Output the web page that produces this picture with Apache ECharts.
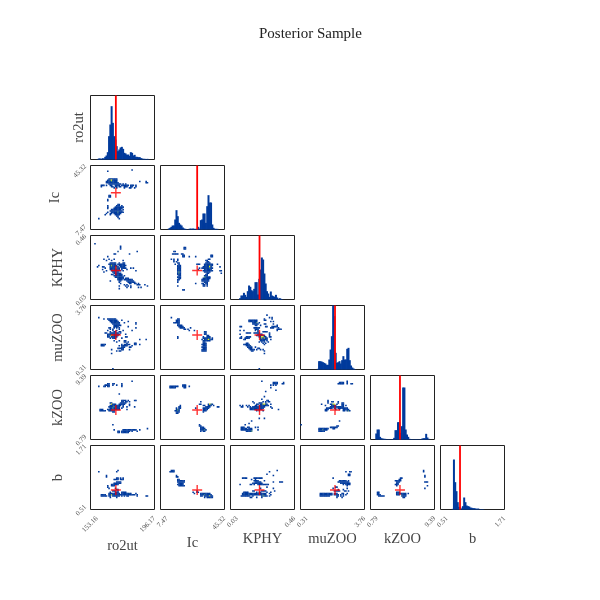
<!DOCTYPE html>
<html><head><meta charset="utf-8">
<script src="https://cdn.jsdelivr.net/npm/echarts@6/dist/echarts.min.js"></script>
<style>html,body{margin:0;padding:0;background:#fff}#c{width:600px;height:600px}</style></head>
<body><div id="c"></div>
<script>
const names=['ro2ut','Ic','KPHY','muZOO','kZOO','b'];
const lowLabels=['153.16','7.47','0.03','0.31','0.79','0.51'];
const highLabels=['196.17','45.32','0.46','3.76','9.39','1.71'];
const truth=[170.2,29.16,0.225,2.17,4.75,0.876];
const BINS=50;
// marginal histograms, one value per bin, starting at bin 0
const hist_ro2ut=[0,0,0,0,0,1,3,3,2,4,3,8,12,22,70,105,160,110,70,60,40,25,30,36,38,32,20,18,14,15,11,22,20,12,14,8,8,7,7,4,3,2,2,1,2,1,0,0,0,0];
const hist_Ic=[0,0,0,0,0,0,3,5,8,12,12,30,58,40,20,15,12,6,3,2,1,0,2,3,2,3,2,2,2,8,3,28,30,48,48,20,70,103,81,81,15,5,2,2,2,0,0,0,0,0];
const hist_KPHY=[0,0,0,0,0,0,0,4,12,12,20,14,8,25,42,38,28,25,32,52,52,15,62,90,126,120,78,48,25,18,8,24,12,10,8,14,6,2,4,2,1,0,0,0,0,0,0,0,0,0];
const hist_muZOO=[0,0,0,0,0,0,0,0,0,0,0,0,0,2,25,25,24,22,20,18,14,14,30,60,100,200,160,50,20,22,25,18,28,40,30,30,62,65,28,12,6,3,1,0,0,0,0,0,0,0];
const hist_kZOO=[0,0,0,0,18,30,30,8,4,3,2,2,1,1,1,1,1,1,5,28,28,52,52,20,40,156,156,30,15,8,2,1,1,1,1,1,1,1,1,1,3,4,4,17,6,2,0,0,0,0];
const hist_b=[0,0,0,0,0,0,0,0,0,2,150,82,55,22,8,6,3,10,36,22,12,10,9,6,5,4,4,3,2,3,1,1,1,1,0,0,0,0,0,0,0,0,0,0,0,0,0,0,0,0];
// 2D histogram cells: each row is [yBin, xBin, xBin, ...]; peaks are [xBin, yBin, level]
const Ic_ro2ut=[[46,32],[45,13],[39,14,15,16,17,18,19,20],[38,13,14,15,16,17,18,19,20],[37,12,13,14,15,16,17,18,19,20,38,43],[36,12,13,14,15,16,17,18,19,20,21,43,44],[35,14,15,16,17,18,19,20,21,22,23,25,27],[34,8,9,10,12,15,16,19,20,21,22,24,25,26,27,28,29,31,32,33,35],[33,8,16,17,19,20,22,23,26,27,28,31,32,35],[32,18,20,26,30,31,34],[26,14,15],[25,14,15],[23,13],[22,13],[19,21,22],[18,13,20,21,22,24],[17,13,19,20,21,22,23,24,25],[16,13,18,19,20,21,22,23,24],[15,16,17,18,19,20,21,22,23,25],[14,15,16,17,18,19,20,21,22,23,24],[13,13,16,17,18,19,20,21,22,23,24,25],[12,12,15,16,18,19,20,21,22,23],[11,11,15,19,20,21,22],[10,20,21],[9,21],[8,6,22]];
const Ic_ro2ut_peaks=[[16,38,10],[15,38,5],[16,37,5],[21,13,4]];
const KPHY_ro2ut=[[43,3],[41,23],[40,23],[39,23],[37,21,36],[35,18,19,30],[33,13],[31,10,14,18],[30,12,16,25],[28,15,16,17,18,19,22,25,26],[27,14,15,16,17,18,19,21,22,23,24,25,26],[26,6,15,16,17,18,19,20,22,23,24,25,26,27],[25,5,9,10,15,16,17,18,19,20,21,23,24,25,26],[24,11,15,16,17,18,19,20,21,22,24,25,26,27,31,33],[23,9,15,16,17,18,19,20,21,22,24,28],[22,12,16,17,18,19,20,21,22,23,25,35],[21,10,17,18,19,20,21],[20,18,19,20,21,22,23],[19,16,17,19,20,21,22,23,24],[18,18,19,20,21,22,23,24,26],[17,19,20,21,22,23,24,25],[16,21,22,23,24,25,27,28,29],[15,21,22,23,24,26,27,28,29,30,31,32],[14,15,22,23,28,29,30,31,32,33],[13,22,29,30,31,32,33,34],[12,23,30,31,34,35,37],[11,26,28,36,37,38,42],[10,22,27,29,31,44],[9,28,31,37,39],[8,22]];
const KPHY_ro2ut_peaks=[[16,26,6],[16,25,5],[21,37,3],[19,24,3],[21,17,3],[20,24,4]];
const muZOO_ro2ut=[[40,6],[39,10,13,14,15,16,17,18,19],[38,14,15,16,17,18,19,20,24],[37,15,16,17,18,19,20,21,29],[36,16,17,18,19,20,21,22,26,35],[35,17,18,19,20,21,22,35],[34,18,19,20,21,22,23],[33,18,19,20,21,29],[32,14,15,18,20,22,35],[31,15,17,22],[30,13,17,20,25,32],[29,15,18,19,22,23],[28,11,12,15,16,17,18,19,20,21,23],[27,13,14,15,16,17,18,19,20,21,22,27],[26,13,14,15,16,17,18,19,20,21],[25,13,14,16,17,18,19,20,27,28],[24,15,17,18,19,24],[23,38,43],[22,18,22,26,27],[21,20,26,27,29],[20,28,34,35],[19,8,9,10,11,24,26,27,28,29,30,34,35,38],[18,8,9,10,22,24,25,26,27,28,32],[17,24,25,26,30,31],[16,21,22,23,24,25],[15,16,24,25,30],[14,20,22,23],[12,16],[0,17]];
const muZOO_ro2ut_peaks=[[16,26,10],[15,26,4],[17,26,4],[20,36,3]];
const kZOO_ro2ut=[[45,32],[43,13,14,17,18,24],[42,11,12,13,14,17,20,24],[41,6,10,11,13,14,24],[35,22],[30,24,25,26,27,29,34,35],[29,24,25,27,28,30],[28,15,16,23,24,25,26,27],[27,16,17,18,19,22,23,24,25,26,30],[26,15,16,17,18,19,20,21,22,23,25,30],[25,14,15,16,17,18,19,20,21,22,25,28,34],[24,15,16,17,18,19,20,21,22,24],[23,7,8,9,13,14,15,16,17,18,19,20,21,22,28],[22,7,8,9,10,11,14,15,16,17,18],[21,17,18],[11,17],[8,44],[7,18,25,26,27,28,29,30,31,32,33,34,35,38],[6,21,22,24,25,26,27,28,29,30,32,36],[5,21,22,24,25,26,27,28,29]];
const kZOO_ro2ut_peaks=[[16,27,10],[18,25,4],[17,24,4]];
const b_ro2ut=[[30,21],[29,6,20],[26,12],[25,12],[24,20,21,23,25],[23,18,19,20,21,23,24,25],[21,20,21,22,23],[20,18,19,20,21,22,23],[19,16,17,18,19,20,21],[18,16,17,18,13],[17,13],[16,19,14],[15,20,21],[14,17,18,19,21],[13,15,19,20,21,24,25,26,27],[12,14,15,16,17,18,19,20,21,22,24,25,26,27,28,29,30,31,35],[11,8,9,10,11,14,15,16,17,18,19,20,21,22,23,24,25,26,27,28,29,30,31,32,33,34,36],[10,8,9,10,11,12,14,15,17,18,19,20,21,22,24,26,28,29,36,43,44],[9,15,20]];
const b_ro2ut_peaks=[[16,11,6],[30,12,2]];
const KPHY_Ic=[[40,18,19],[39,18,19],[37,10,11],[35,9,10,11,12,13,16,17],[34,17,18,39,40],[33,17,18,22,27,39,40],[31,8,10,13,37,38],[30,10,13,35,36],[29,10,12,36,37],[28,13,14,35,36,37,38],[27,11,14,28,29,30,34,35,36,37,38,39,40,44],[26,13,14,15,34,35,36,37,38,39,40],[25,13,14,15,33,34,35,36,37,38,39,46],[24,13,14,15,30,32,33,34,35,36,37,38,39,40],[23,13,14,15,29,34,35,36,37,38,39],[22,13,14,15,33,34,35,36,37,38,39,40,46,47],[21,13,14,15,34,35,36,37,38],[20,13,14,15,36,37,47],[19,13,14,15,35,36],[18,14,15,34,35,36],[17,13,14,15,35,36,37,38],[16,14,15,33,34,35,36,37,38],[15,13,14,32,33,34,35,36,37],[14,13,32,33,34,35,36,37],[13,13,34,35,36],[12,27,32,33,35,36],[11,33,34,36],[10,13,33,34,36],[7,17,18]];
const KPHY_Ic_peaks=[[14,20,4],[14,21,4],[38,25,10],[38,26,5],[38,24,5],[34,17,4]];
const muZOO_Ic=[[40,8],[39,13,14],[38,12,13,14],[37,12,13,14],[36,10,11,12,13,14],[35,13,14],[34,13,14,15,16],[33,14,15,16,17],[32,15,16,17,18,23],[31,18,19,21],[30,22,26],[29,34,35],[28,34,35],[27,34,35],[26,36,37],[25,13,33,36,37,38],[24,13,33,34,35,36,37,38,40],[23,32,34,35,36,37,38,39,40],[22,33,34,35,36,37,38],[21,33,34],[20,33,34,35],[19,32,33,34,35],[18,33,34,35],[17,32,33,34,35],[16,33,34,35],[15,32,33,34,35],[14,32,33,34,35]];
const muZOO_Ic_peaks=[[37,23,10],[38,23,5]];
const kZOO_Ic=[[42,17,18,19],[41,7,8,9,10,11,12,13,17,18,19,22],[40,7,8,9,10,11,18,19],[29,31],[27,30,31,37,38,39,40],[26,15,33,34,37,38,39,41],[25,14,15,35,36,37,38,44,45],[24,12,14,15,27,33,34,35,36,37],[23,12,13,14,33,34,35,36],[22,11,12,13,14,33,34,35],[21,12,13,14,33],[20,12,13],[11,30],[10,30,31],[9,31,32,33],[8,31,32,33,34],[7,31,32,33,34,35],[6,31,33,34]];
const kZOO_Ic_peaks=[[38,27,10],[39,27,5],[34,7,4],[13,23,4],[13,22,5]];
const b_Ic=[[30,8,9,10],[29,7,8,9,10],[26,12],[25,12,13],[23,13,14],[22,13,14,15,16,17,18],[21,13,14,15,16,17,18],[20,14,15,16,17],[19,13,14,15,16,17],[18,14,15,16,17,18],[14,28],[13,25,28,29],[12,26,31,32,33,34,35,36,37,38],[11,31,32,33,34,35,36,37,38,39],[10,31,32,34,35,36,37,38,39,40],[9,34,36,37,38,39,40]];
const b_Ic_peaks=[[34,11,4],[38,10,6]];
const muZOO_KPHY=[[42,28],[40,30,32],[39,26,32],[38,14,15,16,17,18,19,20,26,27],[37,14,15,16,17,18,19,20,31,33],[36,17,18,19,20,22],[35,17,18,19,20,21,26,27,33],[34,19,20,23,36],[33,7,8,27,28,32,33,34,35,36],[32,18,19,20,21,22,31,32,33,37],[31,19,20,21,36,37,38,39],[30,7,10,19,21,36],[29,21,25,26,27,28],[28,12,13,14,15,18,19,20,21,22,30],[27,7,21,22,23,24,30],[26,20,21,22,23,24,25,26,30],[25,8,12,13,14,15,22,23,24,25,26,27,30,31],[24,7,8,11,12,13,14,23,24,25,26,27,28],[23,10,11,23,24,25,26,27,28,31],[22,23,24,25,26,28],[21,22,24,26,29],[20,12,13,25,27],[19,10,11,12,13,14,26],[18,12,13,14,15],[17,13,14,15,16,19],[16,14,15,16,21,22],[15,15,16,17,18,20,23,25],[14,16,17,26],[12,26],[0,22]];
const muZOO_KPHY_peaks=[[25,25,10],[24,25,9],[26,24,6],[24,24,6],[20,36,4],[15,18,3]];
const kZOO_KPHY=[[45,24],[44,33,34,35,36,41],[43,33,34,35,36,40,41],[42,31,33,35],[40,31],[38,35],[37,27],[33,26],[31,24],[30,28,29],[29,17,25,27,29,30],[28,18,22,23,24,27],[27,20,21,23,24,25,26,27,28,31],[26,7,9,12,14,19,20,22,23,24,25,26,27,28,29],[25,8,9,13,15,17,18,19,20,21,22,23,24,25,26,31],[24,15,16,17,18,19,20,21,22,23,24,25,32],[23,15,16,17,18,19,20,21,22,23,24,37],[22,20,22,25],[16,22,26],[14,16],[12,14],[11,11],[9,8,9,10,13,14,19,21],[8,8,9,10,11,12,14,15,16],[7,8,9,10,11,12,13,14,15,16,21],[6,12,13,14,15,16]];
const kZOO_KPHY_peaks=[[26,27,10],[25,27,6],[27,27,4],[16,6,4]];
const b_KPHY=[[30,36],[29,30],[27,28],[26,33],[24,9,10,11,12,18,19,20,21,22,23,24],[23,16,19],[22,18,19,20,21,26],[21,19,20,21,22,23,33,38,39,40],[20,17,18,19,20,21,22,23,24],[19,7,15,16,18,21,22,23,24,25,26,27,28,29],[17,28],[16,23,33],[14,17,18,24,25,26,27,34],[13,10,11,12,13,20,22,23,28,31],[12,9,10,11,12,13,14,15,16,17,18,19,20,21,22,23,24,25,26,27,30],[11,9,10,11,12,13,14,15,16,17,18,19,20,21,22,23,24,25,26,27,31],[10,8,9,10,11,12,13,14,17,24,25,26,27,28,30],[9,15,16,20,24]];
const b_KPHY_peaks=[[25,10,5],[26,10,3],[14,11,3],[25,11,3]];
const kZOO_muZOO=[[45,36],[44,30,31,32,33,36],[43,29,30,31,32,33,36,39,40],[30,21],[29,21,24,25,29],[28,21,29,32,33],[27,16,23,24,25,26,28,32,33],[26,19,24,25,26,27,32,33,35],[25,23,24,25,26,27,28,29,30,31,32,33],[24,20,21,22,23,24,26,27,29,30,31,32,33,34,35,36],[23,19,20,21,27,30,33,34,35,36,37],[22,19,20,33,34,36,37,38],[14,30],[11,0],[10,28,29],[9,23,24,25,26,27,28],[8,14,15,16,17,18,19,20,21,25,26],[7,14,15,16,17,18,19,20],[6,14,15,16,17,18]];
const kZOO_muZOO_peaks=[[26,27,10],[25,27,6],[37,22,4],[17,7,4]];
const b_muZOO=[[29,35,38,39],[27,37,38],[26,37,38],[24,25],[22,30,31,32,33,34,35,37],[21,29,30,31,32,33,34,35,36,37],[20,31,32,33,34,35,36,37,38],[19,33,35,36,37,38],[18,36],[17,27,28],[16,25,36],[15,29,33],[14,26,27,28,29,30,34,35,37],[12,15,16,17,18,19,20,21,22,23,24,26,27,28,32,33,36],[11,15,16,17,18,19,20,21,22,23,24,26,27,28,29,31,33,35],[10,15,16,17,18,19,20,21,22,28,29,31,33],[9,28,32]];
const b_muZOO_peaks=[[27,11,3]];
const b_kZOO=[[30,41],[29,41],[26,42],[25,42],[24,23,24],[23,22,23],[22,19,20,21,22,23],[21,20,21,22,42,43,44],[20,20,21],[19,19,20,21],[18,20,44],[16,42],[13,5,6,20,21,22],[12,5,6,20,21,22,23,24,25,26,27,29],[11,5,6,7,20,21,22,24,25,26,27],[10,6,7,8,9,10,24,25,26,27],[9,25,26]];
const b_kZOO_peaks=[[24,11,2],[24,10,3]];

const hists=[hist_ro2ut,hist_Ic,hist_KPHY,hist_muZOO,hist_kZOO,hist_b];
const cells={'1,0':[Ic_ro2ut,Ic_ro2ut_peaks],'2,0':[KPHY_ro2ut,KPHY_ro2ut_peaks],'3,0':[muZOO_ro2ut,muZOO_ro2ut_peaks],'4,0':[kZOO_ro2ut,kZOO_ro2ut_peaks],'5,0':[b_ro2ut,b_ro2ut_peaks],
'2,1':[KPHY_Ic,KPHY_Ic_peaks],'3,1':[muZOO_Ic,muZOO_Ic_peaks],'4,1':[kZOO_Ic,kZOO_Ic_peaks],'5,1':[b_Ic,b_Ic_peaks],
'3,2':[muZOO_KPHY,muZOO_KPHY_peaks],'4,2':[kZOO_KPHY,kZOO_KPHY_peaks],'5,2':[b_KPHY,b_KPHY_peaks],
'4,3':[kZOO_muZOO,kZOO_muZOO_peaks],'5,3':[b_muZOO,b_muZOO_peaks],'5,4':[b_kZOO,b_kZOO_peaks]};

const FONT='"Liberation Serif",serif';
const binCats=Array.from({length:BINS},(_,i)=>String(i));
const lo=lowLabels.map(Number),hi=highLabels.map(Number);
const xGaps=[29,26,22,22,22,22], yGaps=[4,28,25,25,25,25];
const HIST_MAX=192;
const BLUE='#003a9c';
const plus='path://M4.3 0h1.4v4.3h4.3v1.4h-4.3v4.3h-1.4v-4.3h-4.3v-1.4h4.3z';
const grid=[],xAxis=[],yAxis=[],series=[];
function valueAxis(dim,i,showLabels,named,gap){
  const lowTick=lo[i]+(hi[i]-lo[i])*(dim==='x'?0.1:0.055);
  return {type:'value',gridIndex:grid.length-1,position:dim==='x'?'bottom':'left',min:lo[i],max:hi[i],
    show:showLabels||named,
    name:named?names[i]:'',nameLocation:'middle',nameGap:gap,nameRotate:dim==='x'?0:90,
    nameTextStyle:{fontFamily:FONT,fontSize:14.5,color:'#444'},
    axisLine:{show:false},axisTick:{show:false},splitLine:{show:false},
    axisLabel:{show:showLabels,customValues:[lowTick,hi[i]],rotate:45,margin:dim==='x'?8:5,fontFamily:FONT,fontSize:7,color:'#555',hideOverlap:false,
      formatter:v=>v<(lo[i]+hi[i])/2?lowLabels[i]:highLabels[i]}};
}
function levelColor(v){return v<=1?BLUE:v<=3?'#1f5590':v<=5?'#3f8080':v<=7?'#9aba50':'#f2ee20';}
function drawCell(params,api){
  const p=api.coord([api.value(0),api.value(1)]);
  const s=api.size([1,1]);
  return {type:'rect',shape:{x:p[0]-s[0]/2-0.15,y:p[1]-s[1]/2-0.15,width:s[0]+0.3,height:s[1]+0.3},style:{fill:levelColor(api.value(2))}};
}
for(let r=0;r<6;r++)for(let c=0;c<=r;c++){
  grid.push({left:90.5+70*c,top:95.5+70*r,width:64,height:64,show:true,borderColor:'#222',borderWidth:1,backgroundColor:'transparent',containLabel:false});
  const g=grid.length-1, bottom=r===5, left=c===0;
  const xBand=xAxis.length; xAxis.push({type:'category',gridIndex:g,position:'top',data:binCats,show:false});
  const xVal=xAxis.length; xAxis.push(valueAxis('x',c,bottom,bottom,xGaps[c]));
  if(r===c){
    const yi=yAxis.length;
    yAxis.push({type:'value',gridIndex:g,min:0,max:HIST_MAX,show:left,name:left?names[0]:'',nameLocation:'middle',nameGap:yGaps[0],nameRotate:90,
      nameTextStyle:{fontFamily:FONT,fontSize:14.5,color:'#444'},axisLine:{show:false},axisTick:{show:false},splitLine:{show:false},axisLabel:{show:false}});
    series.push({type:'bar',xAxisIndex:xBand,yAxisIndex:yi,data:hists[c],barWidth:2,barGap:0,itemStyle:{color:BLUE},silent:true,animation:false});
    series.push({type:'line',xAxisIndex:xVal,yAxisIndex:yi,data:[[truth[c],0],[truth[c],HIST_MAX]],symbol:'none',lineStyle:{color:'#f00',width:1.8},silent:true,animation:false,z:5});
  }else{
    const yBand=yAxis.length; yAxis.push({type:'category',gridIndex:g,position:'right',data:binCats,show:false});
    const yVal=yAxis.length; yAxis.push(valueAxis('y',r,left,left,yGaps[r]));
    const [rows,peaks]=cells[r+','+c];
    const byCell=new Map();
    rows.forEach(row=>row.slice(1).forEach(x=>byCell.set(x+','+row[0],[x,row[0],1])));
    peaks.forEach(p=>byCell.set(p[0]+','+p[1],p));
    series.push({type:'custom',coordinateSystem:'cartesian2d',xAxisIndex:xBand,yAxisIndex:yBand,data:[...byCell.values()],encode:{x:0,y:1},renderItem:drawCell,silent:true,animation:false,clip:true});
    series.push({type:'scatter',xAxisIndex:xVal,yAxisIndex:yVal,data:[[truth[c],truth[r]]],symbol:plus,symbolSize:10,itemStyle:{color:'#f00'},silent:true,animation:false,z:5});
  }
}
const chart=echarts.init(document.getElementById('c'),null,{renderer:'canvas'});
chart.setOption({animation:false,backgroundColor:'#fff',
  title:{text:'Posterior Sample',left:254,top:22,textStyle:{fontFamily:FONT,fontSize:15,fontWeight:'normal',color:'#222'}},
  grid,xAxis,yAxis,series});
</script></body></html>
